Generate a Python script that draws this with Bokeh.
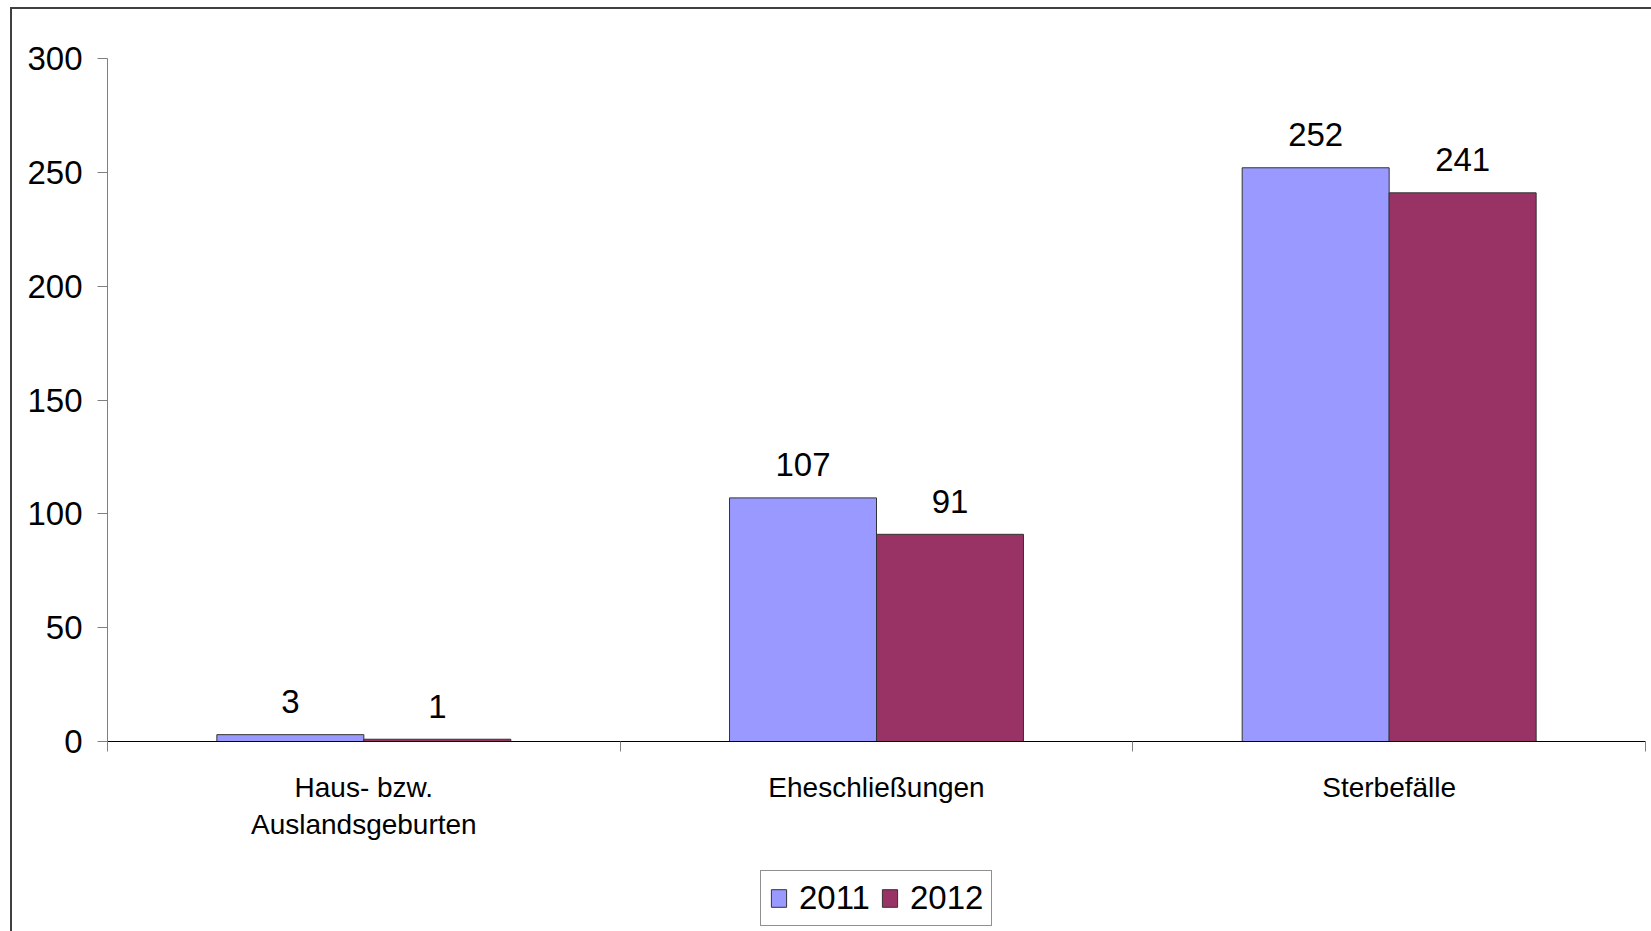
from bokeh.plotting import figure
from bokeh.layouts import column
from bokeh.models import Range1d, FixedTicker, Legend, LegendItem
from bokeh.embed import file_html
from bokeh.resources import INLINE
from bokeh.core.properties import value

categories = ["Haus- bzw.\nAuslandsgeburten", "Eheschließungen", "Sterbefälle"]
values_2011 = [3, 107, 252]
values_2012 = [1, 91, 241]
years = ["2011", "2012"]
y_ticks = [0, 50, 100, 150, 200, 250, 300]

FONT = "Liberation Sans"
C2011 = "#9999FF"
C2012 = "#993366"
BAR_W = 0.2867
BAR_LINE = "#333333"

n = len(categories)
centers = [i + 0.5 for i in range(n)]
x2011 = [c - BAR_W / 2 for c in centers]
x2012 = [c + BAR_W / 2 for c in centers]

# ---- main chart ----
p = figure(width=1639, height=850, output_backend="svg", toolbar_location=None,
           x_range=Range1d(0, n), y_range=Range1d(0, 300),
           min_border_left=95, min_border_right=6, min_border_top=49, min_border_bottom=118)
p.title.visible = False
p.grid.visible = False
p.outline_line_color = None
p.background_fill_color = "white"
p.border_fill_color = "white"

p.vbar(x=x2011, top=values_2011, width=BAR_W, fill_color=C2011,
       line_color=BAR_LINE, line_width=1)
p.vbar(x=x2012, top=values_2012, width=BAR_W, fill_color=C2012,
       line_color=BAR_LINE, line_width=1)

for xs, vs in ((x2011, values_2011), (x2012, values_2012)):
    p.text(x=xs, y=vs, text=[str(v) for v in vs], text_align="center",
           text_baseline="alphabetic", y_offset=-33,
           text_font=value(FONT), text_font_size="33px", text_color="black")

ya = p.yaxis[0]
ya.ticker = FixedTicker(ticks=y_ticks, minor_ticks=[])
ya.axis_line_color = "#808080"
ya.major_tick_line_color = "#808080"
ya.major_tick_out = 10
ya.major_tick_in = 0
ya.minor_tick_line_color = None
ya.major_label_standoff = 15
ya.major_label_text_font = FONT
ya.major_label_text_font_size = "33px"
ya.major_label_text_color = "black"

xa = p.xaxis[0]
xa.ticker = FixedTicker(ticks=centers, minor_ticks=list(range(n + 1)))
xa.major_label_overrides = {c: lab for c, lab in zip(centers, categories)}
xa.axis_line_color = "black"
xa.major_tick_line_color = None
xa.major_tick_out = 10
xa.minor_tick_line_color = "#808080"
xa.minor_tick_out = 10
xa.minor_tick_in = 0
xa.major_label_standoff = 20
xa.major_label_text_font = FONT
xa.major_label_text_font_size = "28px"
xa.major_label_text_color = "black"

# ---- legend strip below the chart ----
# key renderers are hidden; only their legend swatches are drawn
q = figure(width=1639, height=72, output_backend="svg", toolbar_location=None,
           x_range=Range1d(0, n), y_range=Range1d(-2, -1), min_border=0,
           x_axis_type=None, y_axis_type=None)
q.title.visible = False
q.grid.visible = False
q.outline_line_color = None
q.background_fill_color = "white"
q.border_fill_color = "white"
k1 = q.vbar(x=x2011, top=values_2011, width=BAR_W, fill_color=C2011,
            line_color=BAR_LINE, line_width=1, visible=False)
k2 = q.vbar(x=x2012, top=values_2012, width=BAR_W, fill_color=C2012,
            line_color=BAR_LINE, line_width=1, visible=False)

leg = Legend(items=[LegendItem(label=years[0], renderers=[k1]),
                    LegendItem(label=years[1], renderers=[k2])],
             orientation="horizontal", location=(653, 5))
leg.label_text_font = FONT
leg.label_text_font_size = "33px"
leg.label_text_color = "black"
leg.glyph_width = 19
leg.glyph_height = 22
leg.label_standoff = 11
leg.spacing = 10
leg.padding = 8
leg.margin = 0
leg.border_line_color = "#222222"
leg.border_line_width = 1
leg.background_fill_color = "white"
leg.background_fill_alpha = 1
leg.inactive_fill_alpha = 0
q.add_layout(leg)

layout = column(p, q, spacing=0)
layout.margin = (7, 0, 0, 10)
layout.styles = {"border-left": "2px solid #404040", "border-top": "2px solid #404040",
                 "background-color": "white"}

open("out.html", "w").write(file_html(layout, INLINE))
